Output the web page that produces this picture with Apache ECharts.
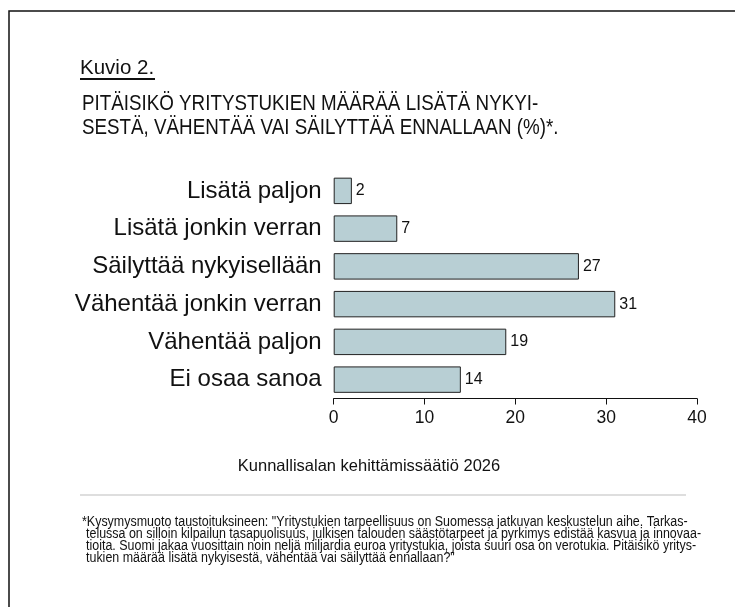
<!DOCTYPE html>
<html>
<head>
<meta charset="utf-8">
<script src="https://cdn.jsdelivr.net/npm/echarts@6/dist/echarts.min.js"></script>
<style>
  html, body { margin: 0; padding: 0; background: #fff; }
  #chart { width: 735px; height: 607px; }
</style>
</head>
<body>
<div id="chart"></div>
<script>
// Vastausvaihtoehdot ja osuudet (%)
const categories = ['Lisätä paljon', 'Lisätä jonkin verran', 'Säilyttää nykyisellään',
    'Vähentää jonkin verran', 'Vähentää paljon', 'Ei osaa sanoa'];
const values = [2, 7, 27, 31, 19, 14];
const xTicks = [0, 10, 20, 30, 40];

const titleLines = [
    'PITÄISIKÖ YRITYSTUKIEN MÄÄRÄÄ LISÄTÄ NYKYI-',
    'SESTÄ, VÄHENTÄÄ VAI SÄILYTTÄÄ ENNALLAAN (%)*.'
];
const footnoteLines = [
    '*Kysymysmuoto taustoituksineen: "Yritystukien tarpeellisuus on Suomessa jatkuvan keskustelun aihe. Tarkas-',
    'telussa on silloin kilpailun tasapuolisuus, julkisen talouden säästötarpeet ja pyrkimys edistää kasvua ja innovaa-',
    'tioita. Suomi jakaa vuosittain noin neljä miljardia euroa yritystukia, joista suuri osa on verotukia. Pitäisikö yritys-',
    'tukien määrää lisätä nykyisestä, vähentää vai säilyttää ennallaan?"'
];

const FONT = '"Liberation Sans", Arial, sans-serif';

const chart = echarts.init(document.getElementById('chart'), null, { renderer: 'canvas' });

const graphics = [
    // kehys (oikea ja alareuna jäävät kuvan ulkopuolelle)
    { type: 'rect', shape: { x: 9, y: 11, width: 800, height: 700 },
      style: { fill: 'none', stroke: '#111', lineWidth: 1.5 }, silent: true },
    { type: 'text', x: 80, y: 68,
      style: { text: 'Kuvio 2.', font: '20.5px ' + FONT, fill: '#111', verticalAlign: 'middle' } },
    { type: 'line', shape: { x1: 80, y1: 79, x2: 155, y2: 79 },
      style: { stroke: '#111', lineWidth: 2 } },
    { type: 'line', shape: { x1: 80, y1: 495, x2: 686, y2: 495 },
      style: { stroke: '#bdbdbd', lineWidth: 1.2 } },
    { type: 'text', x: 369, y: 466,
      style: { text: 'Kunnallisalan kehittämissäätiö 2026', font: '16.5px ' + FONT,
               fill: '#111', align: 'center', verticalAlign: 'middle' } }
];
titleLines.forEach((t, i) => {
    graphics.push({ type: 'text', x: 82, y: 104 + i * 24, scaleX: 0.835,
        style: { text: t, font: '22.5px ' + FONT, fill: '#111', verticalAlign: 'middle' } });
});
footnoteLines.forEach((t, i) => {
    graphics.push({ type: 'text', x: i === 0 ? 82 : 86, y: 522 + i * 12, scaleX: 0.89,
        style: { text: t, font: '14px ' + FONT, fill: '#111', verticalAlign: 'middle' } });
});

chart.setOption({
    animation: false,
    grid: { left: 333.7, right: 38, top: 172, bottom: 208.5, containLabel: false },
    xAxis: {
        type: 'value',
        min: 0, max: 40, interval: 10,
        splitLine: { show: false },
        axisLine: { show: true, lineStyle: { color: '#111', width: 1 } },
        axisTick: { show: true, length: 6, lineStyle: { color: '#111' } },
        axisLabel: { fontSize: 17.5, fontFamily: FONT, color: '#111', margin: 11,
            formatter: v => xTicks.includes(v) ? String(v) : '' }
    },
    yAxis: {
        type: 'category',
        inverse: true,
        data: categories,
        axisLine: { show: false },
        axisTick: { show: false },
        axisLabel: { fontSize: 24, fontFamily: FONT, color: '#111', margin: 12 }
    },
    series: [{
        type: 'bar',
        data: values,
        barCategoryGap: '30%',
        itemStyle: { color: '#b8cfd4', borderColor: '#222', borderWidth: 1 },
        label: { show: true, position: 'right', distance: 4,
                 fontSize: 16, fontFamily: FONT, color: '#111' }
    }],
    graphic: graphics
});
</script>
</body>
</html>
